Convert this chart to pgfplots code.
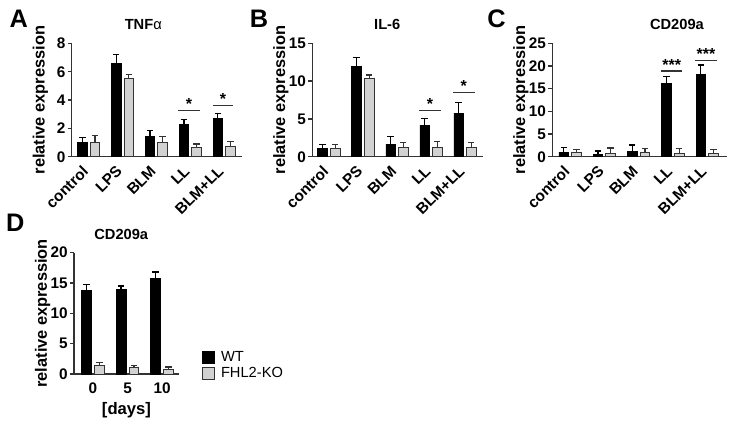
\documentclass[border=0pt]{standalone}
\usepackage{pgfplots}
\pgfplotsset{compat=1.18}
\usepackage{fontspec}
\setmainfont{Liberation Sans}

\definecolor{kogray}{HTML}{D2D2D2}
\definecolor{axgray}{HTML}{333333}

\pgfplotsset{
  panel/.style={
    scale only axis,
    anchor=south west,
    axis lines*=left,
    axis line style={line width=1.1pt, color=axgray},
    ybar,
    bar width=0.28,
    ymin=0,
    enlargelimits=false,
    clip=false,
    tick align=outside,
    major tick length=3pt,
    xtick style={draw=none},
    ytick style={line width=1.1pt, color=axgray},
    /pgf/number format/assume math mode=true,
    tick label style={font=\fontsize{11.5}{14}\selectfont\bfseries},
    yticklabel style={inner xsep=1.5pt},
    ylabel={relative expression},
    ylabel style={font=\fontsize{12.3}{15}\selectfont\bfseries,
      at={(axis description cs:0,0.5)}, anchor=center, yshift=23.5pt},
    title style={font=\fontsize{11}{13}\selectfont\bfseries, anchor=center, yshift=8pt},
  },
  cats/.style={
    xtick={0,1,2,3,4},
    xticklabels={control,LPS,BLM,LL,BLM+LL},
    x tick label style={yshift=-3.5pt, rotate=45, anchor=east,
      font=\fontsize{11.5}{14}\selectfont\bfseries},
  },
  wt/.style={fill=black, draw=black, line width=0.6pt, bar shift=-0.185,
    error bars/y dir=plus, error bars/y explicit,
    error bars/error bar style={line width=1pt, black},
    error bars/error mark options={rotate=90, mark size=2.4pt, line width=1pt, black}},
  ko/.style={fill=kogray, draw=axgray, line width=0.6pt, bar shift=0.185,
    error bars/y dir=plus, error bars/y explicit,
    error bars/error bar style={line width=1pt, axgray},
    error bars/error mark options={rotate=90, mark size=2.4pt, line width=1pt, axgray}},
}

\newcommand{\sig}[4]{% x1, x2, y, text
  \draw[line width=0.9pt, axgray] (axis cs:#1,#3) -- (axis cs:#2,#3);
  \node[anchor=base, inner sep=0pt, yshift=0.6pt, font=\fontsize{12}{14}\selectfont\bfseries]
    at (axis cs:{(#1+#2)/2},#3) {#4};}

\begin{document}
\begin{tikzpicture}
\path[use as bounding box] (0,0) rectangle (552pt,324.75pt);

% panel letters
\node[font=\fontsize{19}{22}\selectfont\bfseries] at (14pt,310.5pt) {A};
\node[font=\fontsize{19}{22}\selectfont\bfseries] at (194.3pt,310.5pt) {B};
\node[font=\fontsize{19}{22}\selectfont\bfseries] at (372.4pt,310.5pt) {C};
\node[font=\fontsize{19}{22}\selectfont\bfseries] at (11.5pt,157.5pt) {D};

% A: TNFalpha
\begin{axis}[panel, cats, at={(53.8pt,207.2pt)}, width=127.7pt, height=85pt,
  xmin=-0.5, xmax=4.53, ymax=8, ytick={0,2,4,6,8},
  title={TNF{\mdseries α}}, title style={at={(axis description cs:0.42,1)}}]
\addplot[wt] coordinates {(0,0.99) +- (0,0.38) (1,6.56) +- (0,0.64) (2,1.42) +- (0,0.45) (3,2.30) +- (0,0.35) (4,2.72) +- (0,0.33)};
\addplot[ko] coordinates {(0,1.00) +- (0,0.50) (1,5.50) +- (0,0.32) (2,1.00) +- (0,0.42) (3,0.64) +- (0,0.26) (4,0.73) +- (0,0.36)};
\sig{2.64}{3.29}{3.27}{*}
\sig{3.67}{4.26}{3.62}{*}
\end{axis}

% B: IL-6
\begin{axis}[panel, cats, at={(234.2pt,207.2pt)}, width=127.8pt, height=85pt,
  xmin=-0.49, xmax=4.52, ymax=15, ytick={0,5,10,15},
  title={IL-6}, title style={at={(axis description cs:0.44,1)}}]
\addplot[wt] coordinates {(0,1.06) +- (0,0.53) (1,12.0) +- (0,1.1) (2,1.63) +- (0,1.02) (3,4.19) +- (0,0.88) (4,5.78) +- (0,1.37)};
\addplot[ko] coordinates {(0,1.10) +- (0,0.53) (1,10.37) +- (0,0.43) (2,1.19) +- (0,0.66) (3,1.19) +- (0,0.84) (4,1.19) +- (0,0.71)};
\sig{2.65}{3.29}{6.09}{*}
\sig{3.65}{4.28}{8.47}{*}
\end{axis}

% C: CD209a
\begin{axis}[panel, cats, at={(414.2pt,207.2pt)}, width=130.8pt, height=85pt,
  xmin=-0.52, xmax=4.57, ymax=25, ytick={0,5,10,15,20,25},
  title={CD209a}, title style={at={(axis description cs:0.715,1)}}]
\addplot[wt] coordinates {(0,1.03) +- (0,1.03) (1,0.50) +- (0,0.75) (2,1.10) +- (0,1.47) (3,16.2) +- (0,1.5) (4,18.2) +- (0,2.0)};
\addplot[ko] coordinates {(0,1.03) +- (0,0.51) (1,0.80) +- (0,1.10) (2,0.96) +- (0,0.80) (3,0.74) +- (0,1.10) (4,0.66) +- (0,0.94)};
\sig{2.65}{3.28}{18.9}{***}
\sig{3.65}{4.28}{21.2}{***}
\end{axis}

% D: CD209a over time
\begin{axis}[panel, at={(55.5pt,44.25pt)}, width=78.75pt, height=91pt,
  xmin=-0.55, xmax=2.49, ymax=20, ytick={0,5,10,15,20},
  xtick={0,1,2}, xticklabels={0,5,10},
  xlabel={[days]}, xlabel style={font=\fontsize{12.5}{15}\selectfont\bfseries},
  title={CD209a}, title style={at={(axis description cs:0.45,1)}},
  legend style={at={(axis description cs:1.216,0.206)}, anchor=north west,
    draw=none, fill=none, inner sep=0pt, row sep=0pt, column sep=4pt,
    font=\fontsize{11}{12}\selectfont,
    nodes={inner sep=1pt, text height=8pt, text depth=2.2pt}},
  legend cell align=left,
  legend image code/.code={\draw[#1] (0pt,-4.4pt) rectangle (8.7pt,4.4pt);}]
\addplot[wt] coordinates {(0,13.7) +- (0,1.1) (1,14.0) +- (0,0.5) (2,15.8) +- (0,1.0)};
\addplot[ko] coordinates {(0,1.45) +- (0,0.4) (1,1.1) +- (0,0.25) (2,0.8) +- (0,0.35)};
\legend{WT,FHL2-KO}
\end{axis}
\end{tikzpicture}
\end{document}
